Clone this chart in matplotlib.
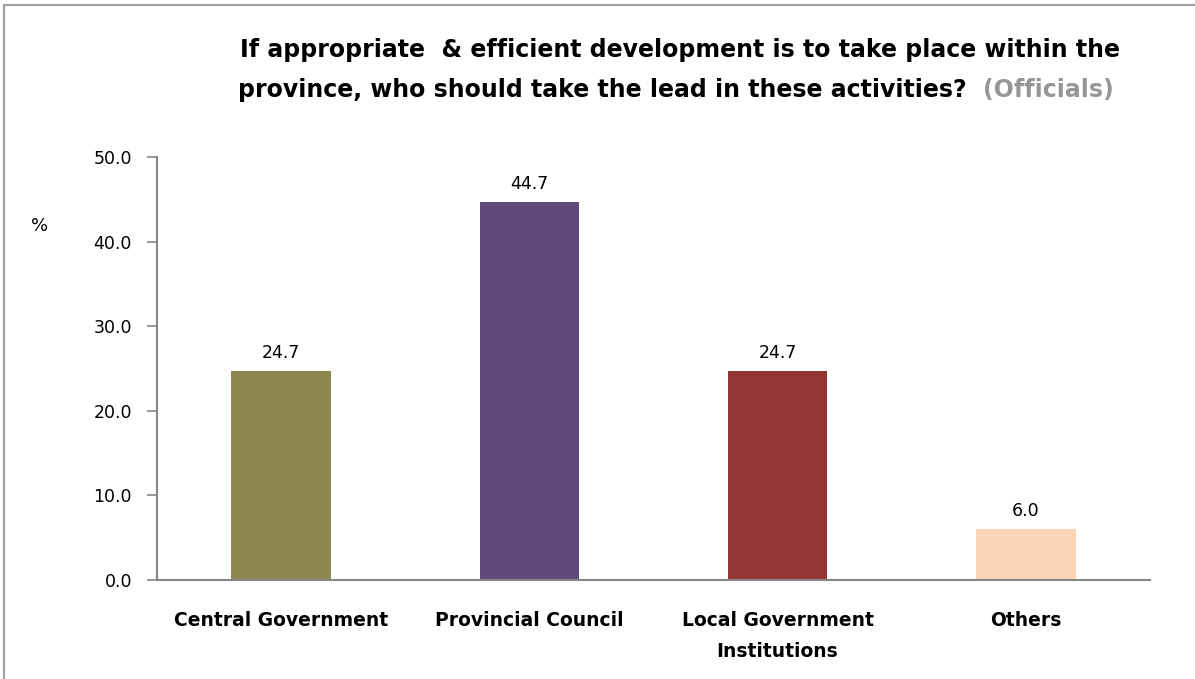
import matplotlib
matplotlib.use("Agg")
import matplotlib.pyplot as plt
from matplotlib.patches import Rectangle

categories = ["Central Government", "Provincial Council", "Local Government\nInstitutions", "Others"]
values = [24.7, 44.7, 24.7, 6.0]
colors = ["#8E8752", "#5F4A7A", "#943634", "#FBD5B5"]
yticks = [0, 10, 20, 30, 40, 50]

W, H = 1195, 679
fig = plt.figure(figsize=(W / 100, H / 100), dpi=100)

# outer frame
fig.patches.append(Rectangle((4 / W, -0.01), 1.2, (H - 5) / H + 0.01, transform=fig.transFigure,
                             fill=False, edgecolor="#A0A0A0", linewidth=1.5))

ax = fig.add_axes([157 / W, 1 - 580 / H, (1150 - 157) / W, (580 - 157) / H])
x = range(len(categories))
ax.bar(x, values, width=0.4, color=colors)
for xi, v in zip(x, values):
    ax.text(xi, v + 1.1, f"{v:.1f}", ha="center", va="bottom", fontsize=12.5, color="#000000")

ax.set_xlim(-0.5, 3.5)
ax.set_ylim(0, 50)
ax.set_yticks(yticks)
ax.set_yticklabels([f"{t:.1f}" for t in yticks], fontsize=12.5)
ax.set_xticks(list(x))
ax.set_xticklabels(categories, fontsize=13.5, fontweight="bold", linespacing=1.8)
ax.tick_params(axis="x", length=0, pad=22)
ax.tick_params(axis="y", length=7, width=1.2, color="#868686", pad=11)
for s in ["top", "right"]:
    ax.spines[s].set_visible(False)
for s in ["left", "bottom"]:
    ax.spines[s].set_color("#868686")
    ax.spines[s].set_linewidth(1.5)

fig.text(40 / W, 1 - 226 / H, "%", fontsize=13, ha="center", va="center")

fig.text(680 / W, 1 - 50 / H, "If appropriate  & efficient development is to take place within the",
         fontsize=17, fontweight="bold", ha="center", va="center")
t2 = fig.text(238 / W, 1 - 90 / H, "province, who should take the lead in these activities?  ",
              fontsize=17, fontweight="bold", ha="left", va="center")
fig.canvas.draw()
bb = t2.get_window_extent()
fig.text(bb.x1 / W, 1 - 90 / H, "(Officials)", fontsize=17, fontweight="bold",
         ha="left", va="center", color="#969696")

fig.savefig("out.png", dpi=100)
